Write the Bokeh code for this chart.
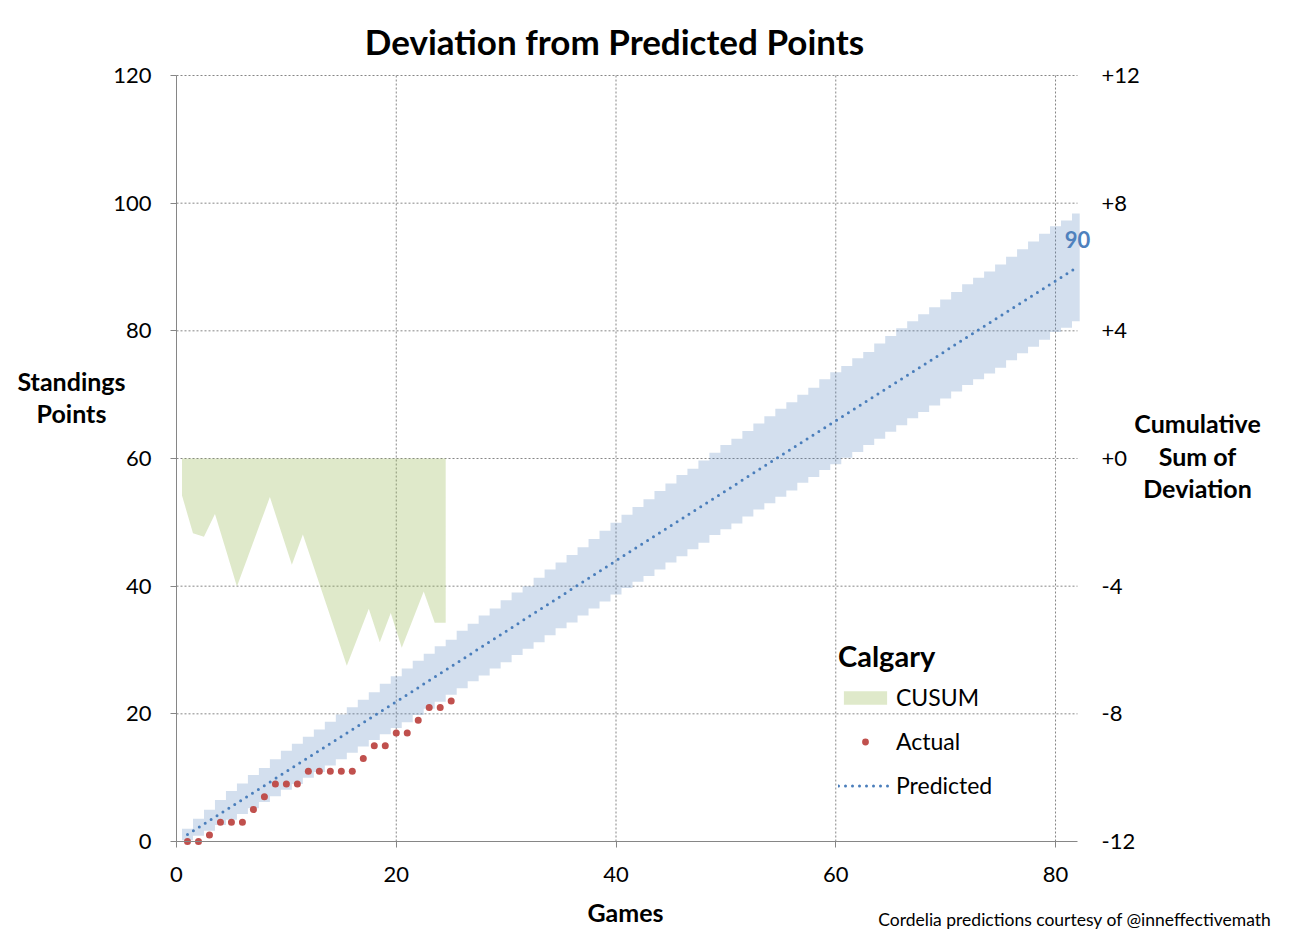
import numpy as np
from bokeh.plotting import figure
from bokeh.models import (Range1d, LinearAxis, FixedTicker, Label, Legend,
                          LegendItem)
from bokeh.embed import file_html
from bokeh.resources import INLINE

# ---------------- data ----------------
games = list(range(1, 83))
band_upper = [2.0, 3.55, 4.97, 6.5, 7.9, 9.1, 10.4, 11.5, 12.9, 14.2, 15.3,
              16.4, 17.55, 18.75, 19.9, 21.05, 22.2, 23.4, 24.7, 25.9, 27.1,
              28.3, 29.4, 30.6, 31.6, 33.0, 34.1, 35.4, 36.5, 37.8, 39.0, 40.0,
              41.3, 42.6, 43.7, 44.9, 46.1, 47.4, 48.7, 49.95, 51.2, 52.4,
              53.6, 54.9, 56.1, 57.4, 58.4, 59.7, 60.9, 62.1, 63.1, 64.3, 65.5,
              66.6, 67.8, 68.8, 70.0, 71.1, 72.4, 73.5, 74.5, 75.7,
              76.7, 78.0, 79.2, 80.4, 81.5, 82.6, 83.7, 84.9, 86.1, 87.3, 88.3,
              89.3, 90.4, 91.6, 92.8, 94.0, 95.2, 96.4, 97.3, 98.4]
band_lower = [0.2, 0.9, 1.7, 2.6, 3.4, 4.3, 5.2, 6.2, 7.1, 8.1, 9.0, 10.0,
              10.9, 11.9, 12.9, 13.9, 14.9, 15.9, 16.8, 17.8, 18.7,
              19.8, 20.8, 21.9, 23.0, 24.0, 25.1, 26.0, 27.1, 28.1, 29.2, 30.2,
              31.2, 32.3, 33.4, 34.3, 35.4, 36.5, 37.6, 38.7, 39.7, 40.7,
              41.6, 42.6, 43.7, 44.7, 45.8, 46.8, 48.0, 48.9, 49.8, 50.9, 52.0,
              53.0, 54.0, 55.0, 56.2, 57.1, 58.2, 59.1, 60.1, 61.0,
              62.1, 63.1, 64.2, 65.2, 66.3, 67.3, 68.3, 69.4, 70.5, 71.5, 72.4,
              73.3, 74.2, 75.4, 76.5, 77.5, 78.6, 79.8, 80.5, 81.5]

actual_games = list(range(1, 26))
actual_points = [0, 0, 1, 3, 3, 3, 5, 7, 9, 9, 9, 11, 11, 11, 11, 11, 13, 15,
                 15, 17, 17, 19, 21, 21, 22]
cusum = [-1.16, -2.34, -2.45, -1.74, -2.87, -4.01, -3.08, -2.14, -1.21, -2.27,
         -3.33, -2.38, -3.41, -4.43, -5.46, -6.49, -5.60, -4.71, -5.76, -4.84,
         -5.93, -5.05, -4.17, -5.15, -5.15]

pred_games = [1, 21, 42, 62, 82]
pred_points = [1.1, 23.0, 46.2, 68.1, 90.0]

x_ticks = [0, 20, 40, 60, 80]
left_ticks = [0, 20, 40, 60, 80, 100, 120]
right_ticks = [-12, -8, -4, 0, 4, 8, 12]
right_labels = ["-12", "-8", "-4", "+0", "+4", "+8", "+12"]

X_MIN, X_MAX = 0, 82
Y_MIN, Y_MAX = 0, 120
R_MIN, R_MAX = -12, 12

# ---------------- layout (pixels) ----------------
W, H = 1285, 932
PL, PR, PT, PB = 176, 1077, 75, 841          # plot-area edges on the canvas
sx = (PR - PL) / (X_MAX - X_MIN)
sy = (PB - PT) / (Y_MAX - Y_MIN)
def dx(px): return X_MIN + (px - PL) / sx
def dy(py): return Y_MIN + (PB - py) / sy
def ry(y): return R_MIN + (y - Y_MIN) * (R_MAX - R_MIN) / (Y_MAX - Y_MIN)

FONT = "Lato"
GRID = "#868686"
BLUE = "#4F81BD"
GREEN = "#9BBB59"
RED = "#C0504D"

p = figure(width=W, height=H, x_range=Range1d(dx(0), dx(W)),
           y_range=Range1d(dy(H), dy(0)), output_backend="svg",
           toolbar_location=None, x_axis_location=None, y_axis_location=None,
           min_border=0)
p.title.visible = False
p.outline_line_color = None
p.xgrid.visible = False
p.ygrid.visible = False
p.extra_y_ranges = {"cusum": Range1d(ry(dy(H)), ry(dy(0)))}

# dashed gridlines
gx = [t for t in x_ticks if t > X_MIN]
gy = [t for t in left_ticks if t > Y_MIN]
p.segment(x0=gx, y0=[Y_MIN] * len(gx), x1=gx, y1=[Y_MAX] * len(gx),
          line_color=GRID, line_dash="2 2", line_width=1)
p.segment(x0=[X_MIN] * len(gy), y0=gy, x1=[X_MAX] * len(gy), y1=gy,
          line_color=GRID, line_dash="2 2", line_width=1)

# band (stepped, one step per game)
g = np.array(games, dtype=float)
bx = np.minimum(np.column_stack([g - 0.5, g + 0.5]).ravel(), X_MAX + 0.2)
bu = np.repeat(np.array(band_upper), 2)
bl = np.repeat(np.array(band_lower), 2)
p.patch(np.concatenate([bx, bx[::-1]]), np.concatenate([bu, bl[::-1]]),
        fill_color=BLUE, fill_alpha=0.25, line_color=None)

# CUSUM area on right axis
ag = np.array(actual_games, dtype=float)
cus = p.varea(x=ag - 0.5, y1=np.zeros(len(cusum)), y2=np.array(cusum),
              y_range_name="cusum", fill_color=GREEN, fill_alpha=0.32)

pred = p.line(pred_games, pred_points, line_color="#4A7EBB", line_width=3,
              line_dash="0 7", line_cap="round")
act = p.scatter(actual_games, actual_points, size=7, fill_color=RED,
                line_color=None)

# axes
xax = LinearAxis(fixed_location=Y_MIN, bounds=(X_MIN, X_MAX),
                 ticker=FixedTicker(ticks=x_ticks))
yax = LinearAxis(fixed_location=X_MIN, bounds=(Y_MIN, Y_MAX),
                 ticker=FixedTicker(ticks=left_ticks))
for ax in (xax, yax):
    ax.axis_line_color = GRID
    ax.major_tick_line_color = GRID
    ax.major_tick_out = 6
    ax.major_tick_in = 0
    ax.minor_tick_line_color = None
    ax.major_label_text_font = FONT
    ax.major_label_text_font_size = "22px"
    ax.major_label_text_color = "black"
xax.major_label_standoff = 19
yax.major_label_standoff = 19
p.add_layout(xax, "below")
p.add_layout(yax, "left")

rax = LinearAxis(y_range_name="cusum", fixed_location=X_MAX,
                 bounds=(R_MIN, R_MAX), ticker=FixedTicker(ticks=right_ticks),
                 major_label_overrides=dict(zip(right_ticks, right_labels)))
rax.axis_line_color = None
rax.major_tick_line_color = None
rax.minor_tick_line_color = None
rax.major_label_standoff = 18
rax.major_label_text_font = FONT
rax.major_label_text_font_size = "22px"
rax.major_label_text_color = "black"
p.add_layout(rax, "right")

# legend
legend = Legend(items=[LegendItem(label="CUSUM", renderers=[cus]),
                       LegendItem(label="Actual", renderers=[act]),
                       LegendItem(label="Predicted", renderers=[pred])],
                title="Calgary", location=(838, 133))
legend.title_text_font = FONT
legend.title_text_font_style = "bold"
legend.title_text_font_size = "29px"
legend.title_text_color = "black"
legend.title_standoff = 10
legend.label_text_font = FONT
legend.label_text_font_size = "23px"
legend.label_text_color = "black"
legend.glyph_width = 54
legend.glyph_height = 17
legend.label_standoff = 4
legend.spacing = 16
legend.padding = 0
legend.margin = 0
legend.border_line_color = None
legend.background_fill_alpha = 0
p.add_layout(legend)


def lab(px, py, text, size, bold=True, align="center", color="black"):
    p.add_layout(Label(x=dx(px), y=dy(py), text=text, text_font=FONT,
                       text_font_size=size,
                       text_font_style="bold" if bold else "normal",
                       text_align=align, text_baseline="middle",
                       text_color=color))


lab(614, 40, "Deviation from Predicted Points", "35px")
lab(71, 380, "Standings", "25px")
lab(71, 412, "Points", "25px")
lab(1197, 422, "Cumulative", "25px")
lab(1197, 455, "Sum of", "25px")
lab(1197, 487, "Deviation", "25px")
lab(625, 911, "Games", "25px")
lab(1271, 919, "Cordelia predictions courtesy of @inneffectivemath", "17.5px",
    bold=False, align="right")
# data label above the last predicted point (28 px up)
p.add_layout(Label(x=pred_games[-1], y=pred_points[-1] + 28 / sy,
                   text=f"{pred_points[-1]:.0f}", text_font=FONT,
                   text_font_size="22px", text_font_style="bold",
                   text_color=BLUE, text_align="center",
                   text_baseline="middle"))
open("out.html", "w").write(file_html(p, INLINE))
